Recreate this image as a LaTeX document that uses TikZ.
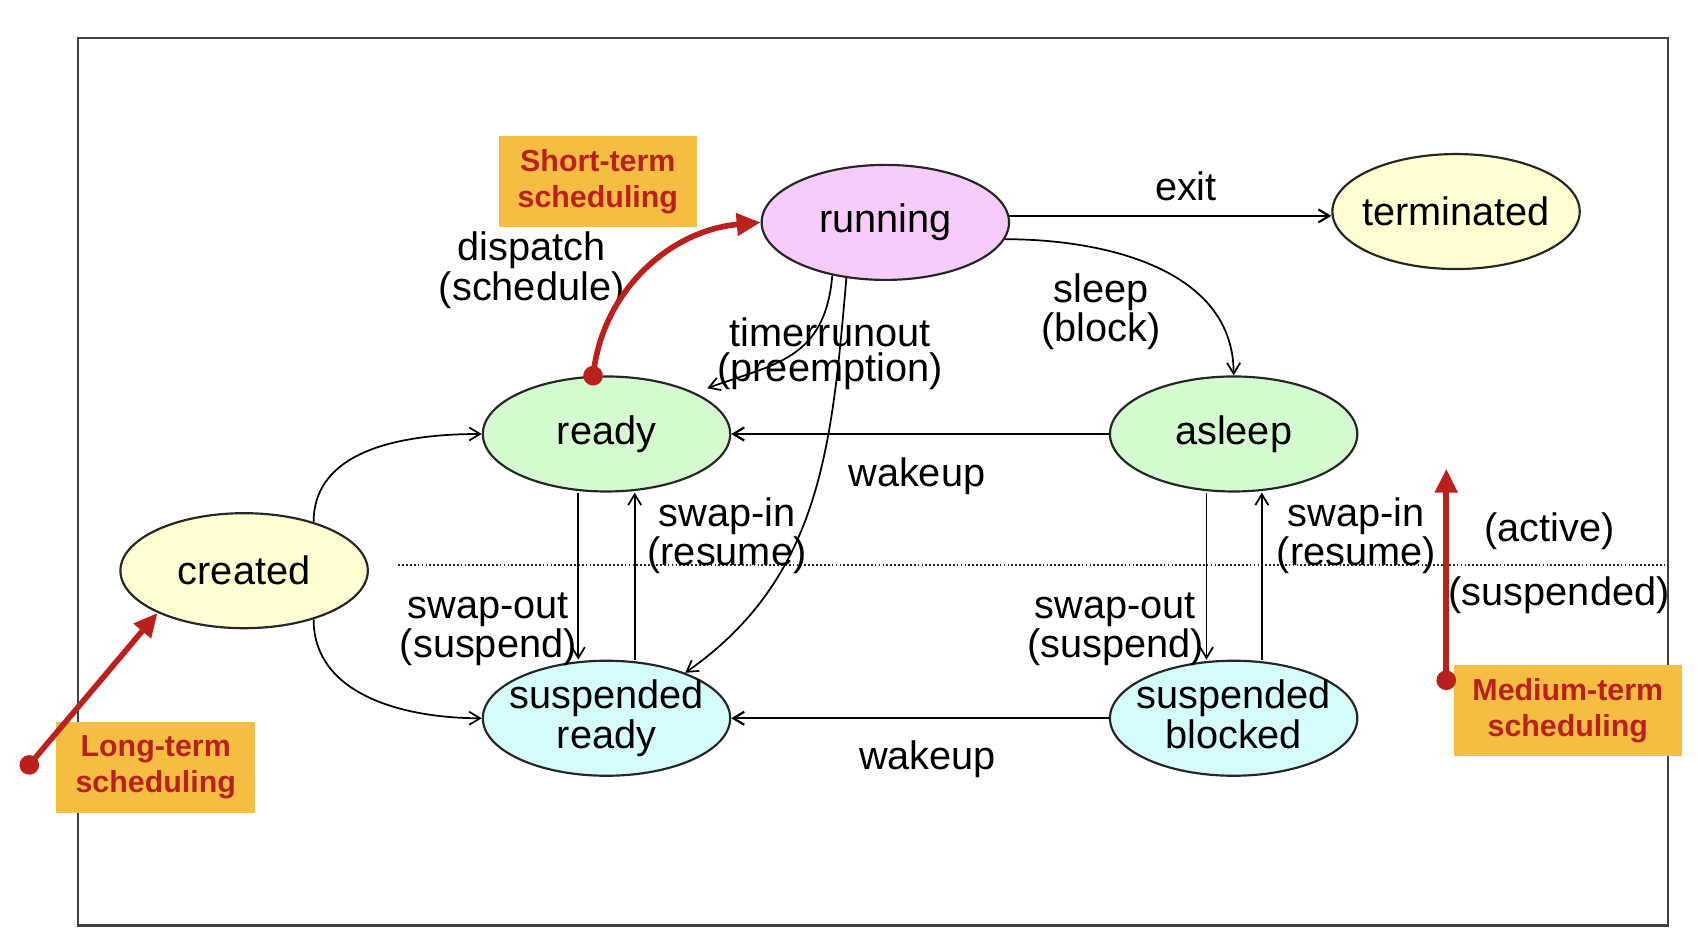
\documentclass[tikz,border=0pt]{standalone}
\usepackage{fontspec}
\setmainfont{Liberation Sans}
\usepackage{tikz}
\usetikzlibrary{calc}
\usetikzlibrary{shapes}
\usetikzlibrary{arrows.meta}
\definecolor{SchedRed}{RGB}{188,32,28}
\definecolor{SchedOrange}{RGB}{245,190,66}
\definecolor{RunPink}{RGB}{247,204,250}
\definecolor{NewYellow}{RGB}{255,255,210}
\definecolor{ActGreen}{RGB}{212,250,208}
\definecolor{SuspCyan}{RGB}{212,252,252}
\colorlet{framegray}{black!75}
\tikzset{
  state/.style={ellipse,draw=black!85,line width=1pt,
    inner xsep=-8pt,inner ysep=0pt,
    minimum width=114pt,minimum height=53pt,align=center,
    font=\fontsize{18.3}{18}\selectfont},
  trans/.style={-{Straight Barb[length=5pt,width=6pt]},line width=0.8pt},
  lbl/.style={align=center,inner sep=0pt,font=\fontsize{18.3}{16}\selectfont},
  sched/.style={fill=SchedOrange,text=SchedRed,align=center,inner sep=0pt,
    minimum height=42pt,font=\fontsize{14}{16.5}\selectfont\bfseries},
  schedarrow/.style={SchedRed,line width=2.6pt,shorten <=-4.5pt,
    {Circle[length=9pt]}-{Triangle[length=11pt,width=10pt]}}
}
\begin{document}
\begin{tikzpicture}[x=0.5pt,y=0.5pt]
  \useasboundingbox (0,0) rectangle (1565,877);
  \draw[framegray,line width=1pt] (72,24) rectangle (1537,842);
  \draw[black!85,densely dotted,line width=0.8pt] (367,356) -- (1537,356);
  % states
  \node[state,fill=RunPink] (running) at (816,672) {running};
  \node[state,fill=NewYellow] (terminated) at (1342,682) {terminated};
  \node[state,fill=ActGreen] (ready) at (559,477) {ready};
  \node[state,fill=ActGreen] (asleep) at (1137,477) {asleep};
  \node[state,fill=NewYellow] (created) at (225,351) {created};
  \node[state,fill=SuspCyan] (sready) at (559,215) {suspended\\ready};
  \node[state,fill=SuspCyan] (sblocked) at (1137,215) {suspended\\blocked\vphantom{y}};
  % transitions
  \draw[trans,line width=1pt] (running.3) -- (running.3 -| terminated.west);
  \node[lbl] (exitlbl) at (1093,705) {exit};
  \draw[trans] (running.-8) to[out=0,in=90] (asleep.north);
  \node[lbl] (sleeplbl) at (1015,590) {sleep\\(block)};
  \draw[trans,shorten >=6pt] (running.225) to[out=265,in=20,looseness=1.2] (ready.25);
  \node[lbl] (timerlbl) at (765,551) {timerrunout\\(preemption)};
  \draw[trans] (running.235) to[out=265,in=35] (sready.30);
  \draw[trans,line width=1pt] (asleep.west) -- (ready.east);
  \node[lbl] (wakeuplbl) at (845,438) {wakeup};
  \draw[trans,line width=1pt] (sblocked.west) -- (sready.east);
  \node[lbl] (swakeuplbl) at (855,177) {wakeup};
  \draw[trans] (created.35) to[out=90,in=180] (ready.west);
  \draw[trans] (created.-35) to[out=270,in=180] (sready.west);
  \draw[trans] ($(ready.south)+(-26,0)$) -- ($(sready.north)+(-26,0)$);
  \draw[trans] ($(sready.north)+(26,0)$) -- ($(ready.south)+(26,0)$);
  \draw[trans] ($(asleep.south)+(-25,0)$) -- ($(sblocked.north)+(-25,0)$);
  \draw[trans] ($(sblocked.north)+(26,0)$) -- ($(asleep.south)+(26,0)$);
  \node[lbl] (swapinl) at (670,383) {swap-in\\(resume)};
  \node[lbl] (swapoutl) at (450,297) {swap-out\\(suspend)};
  \node[lbl] (swapinr) at (1250,383) {swap-in\\(resume)};
  \node[lbl] (swapoutr) at (1028,297) {swap-out\\(suspend)};
  \node[lbl] (dispatchlbl) at (490,628) {dispatch\\(schedule)};
  \node[lbl] (activelbl) at (1428,387) {(active)};
  \node[lbl] (susplbl) at (1437,328) {(suspended)};
  % scheduling levels
  \node[sched,minimum width=91pt] (shortterm) at (551,709.5) {Short-term\\scheduling};
  \node[sched,minimum width=91.5pt] (longterm) at (143.5,169.5) {Long-term\\scheduling};
  \node[sched,minimum width=105pt] (mediumterm) at (1445,222) {Medium-term\\scheduling};
  \draw[schedarrow] (ready.103) to[out=82,in=185] (running.west);
  \coordinate (ltfoot) at (27,172);
  \draw[schedarrow] (ltfoot) -- (created.206);
  \coordinate (mtfoot) at (1333,250);
  \coordinate (mthead) at (1333,445);
  \draw[schedarrow] (mtfoot) -- (mthead);
\end{tikzpicture}
\end{document}
